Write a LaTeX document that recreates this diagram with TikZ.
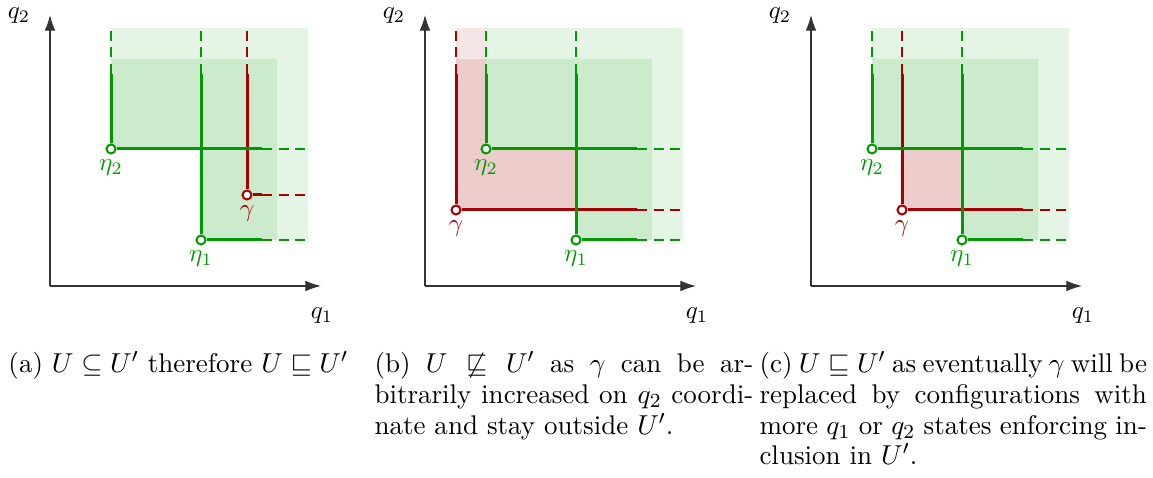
\documentclass[tikz,border=0pt]{standalone}
\usepackage{amsmath,amssymb}
\usepackage{tikz}
\usetikzlibrary{arrows.meta,positioning,calc}
\definecolor{gcol}{RGB}{0,153,0}
\definecolor{rcol}{RGB}{166,0,0}
\tikzset{
  axis/.style={-{Latex[length=2.2mm,width=1.5mm]}, line width=0.45pt, black!80},
  solid line/.style={line width=1.2pt},
  dash line/.style={line width=0.8pt, dash pattern=on 4pt off 2.6pt},
  conf/.style={circle, draw, fill=white, line width=0.8pt, inner sep=0pt, minimum size=3.6pt},
  capt/.style={anchor=north west, inner sep=0pt, align=justify, font=\fontsize{10.8}{12.3}\selectfont},
  lab/.style={inner sep=0pt, font=\normalsize}}

\begin{document}
\begin{tikzpicture}[x=0.4pt, y=0.4pt]
  \useasboundingbox (0,0) rectangle (1153,478);
  % one panel per case: origin x, position of gamma, tag
  \foreach \ox/\gx/\gy/\p in {50/197/91/a, 425/31/76/b, 811/91/76/c} {
    \begin{scope}[shift={(\ox,192)}]
      % upward closures: gamma first, then U' on top
      \fill[rcol!10] (\gx,\gy) rectangle (258,258);
      \fill[rcol!20] (\gx,\gy) rectangle (227,227);
      \fill[gcol!10] (61,137) -- (61,258) -- (258,258) -- (258,46) -- (151,46) -- (151,137) -- cycle;
      \fill[gcol!20] (61,137) -- (61,227) -- (227,227) -- (227,46) -- (151,46) -- (151,137) -- cycle;
      % axes
      \coordinate (o-\p) at (0,0);
      \coordinate (xe-\p) at (271,0);
      \coordinate (ye-\p) at (0,271);
      \draw[axis] (o-\p) -- (xe-\p);
      \draw[axis] (o-\p) -- (ye-\p);
      \node[lab] (q1-\p) at (272,-30) {$q_1$};
      \node[lab] (q2-\p) at (-31,270) {$q_2$};
      % configurations
      \node[conf, draw=rcol, label={[text=rcol, label distance=-1.5pt]below:$\gamma$}] (g-\p) at (\gx,\gy) {};
      \node[conf, draw=gcol, label={[text=gcol, label distance=-1.5pt]below:$\eta_1$}] (e1-\p) at (151,46) {};
      \node[conf, draw=gcol, label={[text=gcol, label distance=-1.5pt]below:$\eta_2$}] (e2-\p) at (61,137) {};
      \foreach \n/\c in {g/rcol, e1/gcol, e2/gcol} {
        \draw[solid line, \c] (\n-\p) -- (\n-\p |- 0,212);
        \draw[solid line, \c] (\n-\p) -- (\n-\p -| 212,0);
        \draw[dash line, \c] (\n-\p |- 0,212) -- (\n-\p |- 0,258);
        \draw[dash line, \c] (\n-\p -| 212,0) -- (\n-\p -| 258,0);
      }
    \end{scope}
  }
  % captions
  \node[capt] (cap-a) at (8,127) {(a) $U\subseteq U'$ therefore $U\sqsubseteq U'$};
  \node[capt, text width=151.5pt] (cap-b) at (374,127)
    {(b) $U\not\sqsubseteq U'$ as $\gamma$ can be ar-\linebreak bitrarily increased on $q_2$ coordi-\linebreak nate and stay outside $U'$.};
  \node[capt, text width=155pt] (cap-c) at (759,127)
    {(c) $U\sqsubseteq U'$ as eventually $\gamma$ will be\linebreak replaced by configurations with\linebreak more $q_1$ or $q_2$ states enforcing in-\linebreak clusion in $U'$.};
\end{tikzpicture}
\end{document}
